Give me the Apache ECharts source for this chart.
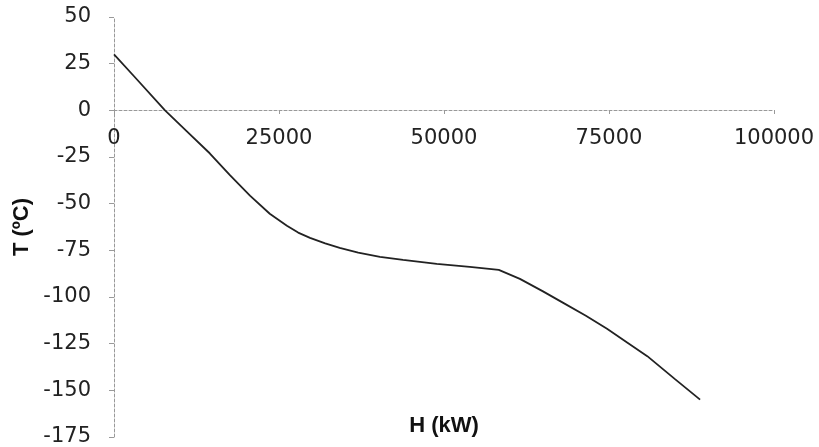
<!DOCTYPE html>
<html>
<head>
<meta charset="utf-8">
<script src="https://cdn.jsdelivr.net/npm/echarts@6/dist/echarts.min.js"></script>
<style>html,body{margin:0;padding:0;background:#fff;}#c{width:819px;height:447px;}</style>
</head>
<body>
<div id="c"></div>
<script>
const hValues = [0, 3000, 7730, 11000, 14500, 17600, 20600, 23600, 26200, 27900, 29700, 32000, 34200, 37000, 40300, 43800, 48900, 53900, 58300, 61500, 65000, 68000, 71500, 74700, 77800, 80800, 85000, 88800];
const tValues = [30, 18.4, 0, -11.1, -23, -34.9, -45.7, -55.4, -61.8, -65.5, -68.3, -71.3, -73.7, -76.2, -78.5, -80.1, -82.3, -83.9, -85.5, -90.3, -97, -103, -110, -117, -124.5, -131.7, -144, -155];
const xTicks = [0, 25000, 50000, 75000, 100000];
const yTicks = [50, 25, 0, -25, -50, -75, -100, -125, -150, -175];
const xName = 'H (kW)';
const yName = 'T (ºC)';

const chart = echarts.init(document.getElementById('c'), null, {renderer: 'canvas'});
const pts = hValues.map((h, i) => [h, tValues[i]]);
chart.setOption({
  animation: false,
  backgroundColor: '#fff',
  grid: {left: 114, right: 45, top: 17, bottom: 10, containLabel: false, outerBoundsMode: 'none'},
  xAxis: {
    type: 'value', min: xTicks[0], max: xTicks[xTicks.length - 1], interval: 25000,
    position: 'bottom', offset: -327,
    axisLine: {onZero: false, lineStyle: {color: '#999', width: 1, type: [3, 2]}},
    axisTick: {show: true, length: 4, lineStyle: {color: '#999'}},
    splitLine: {show: false},
    axisLabel: {show: true, color: '#222', fontFamily: 'DejaVu Sans', fontSize: 21, margin: 18, formatter: v => String(v), showMinLabel: true, showMaxLabel: true, hideOverlap: false},
    name: xName, nameLocation: 'middle', nameGap: 305, nameMoveOverlap: false,
    nameTextStyle: {color: '#111', fontFamily: 'Liberation Sans', fontWeight: 'bold', fontSize: 22}
  },
  yAxis: {
    type: 'value', min: yTicks[yTicks.length - 1], max: yTicks[0], interval: 25,
    axisLine: {show: true, lineStyle: {color: '#999', width: 1, type: [3, 2]}},
    axisTick: {show: true, length: 5, lineStyle: {color: '#999'}},
    splitLine: {show: false},
    axisLabel: {color: '#222', fontFamily: 'DejaVu Sans', fontSize: 21, margin: 23, formatter: v => String(v), showMinLabel: true, showMaxLabel: true},
    name: yName, nameLocation: 'middle', nameGap: 78,
    nameTextStyle: {color: '#111', fontFamily: 'Liberation Sans', fontWeight: 'bold', fontSize: 22}
  },
  series: [{
    type: 'line', data: pts, showSymbol: false, smooth: false,
    lineStyle: {color: '#222', width: 1.8}
  }]
});
</script>
</body>
</html>
